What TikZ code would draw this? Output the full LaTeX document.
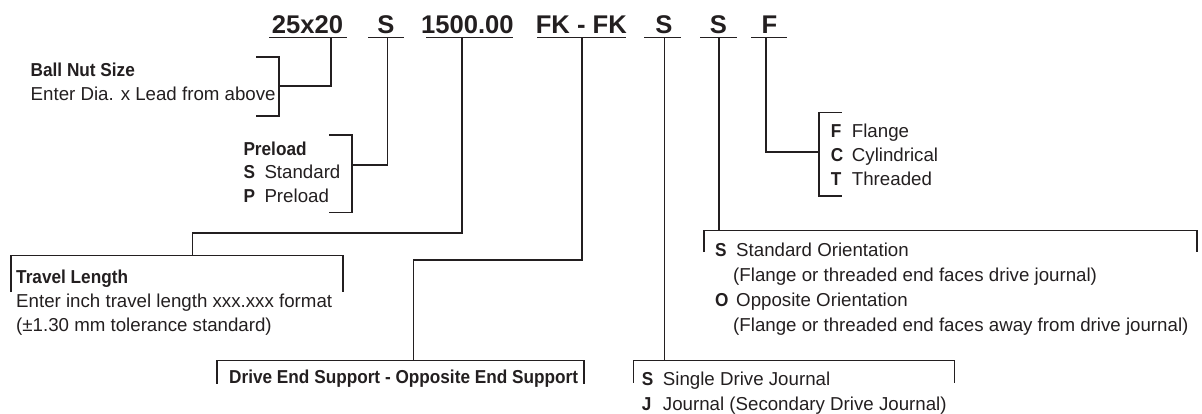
\documentclass[tikz,border=0pt]{standalone}
\usepackage{fontspec}
\setmainfont{Liberation Sans}
\newfontfamily\condfam{Liberation Sans}[FakeStretch=0.92]
\definecolor{ink}{RGB}{35,31,32}
\newcommand\bbf{\condfam\bfseries}
\newcommand\tg[1]{\makebox[21pt][l]{\bbf #1}}
\newcommand\cont{\hspace{18pt}}
\tikzset{
  ln/.style={draw=ink, line width=1.2pt},
  ul/.style={draw=ink, line width=1.5pt},
  hdr/.style={inner sep=0pt, anchor=base, text=ink, font=\fontsize{25.6}{30}\selectfont\bfseries},
  txt/.style={inner sep=0pt, anchor=base west, text=ink, font=\fontsize{18.7}{#1}\selectfont},
}
\begin{document}
\begin{tikzpicture}[x=1pt, y=-1pt]
\useasboundingbox (0,0) rectangle (1202,413);

% header
\node[hdr] (h1) at (307.5,33.3) {25x20};
\node[hdr] (h2) at (386,33.3) {S};
\node[hdr] (h3) at (467.4,33.3) {1500.00};
\node[hdr] (h4) at (581.3,33.3) {FK - FK};
\node[hdr] (h5) at (664,33.3) {S};
\node[hdr] (h6) at (718.5,33.3) {S};
\node[hdr] (h7) at (769.5,33.3) {F};
\draw[ul] (269,37.7) -- (347,37.7);
\draw[ul] (368,37.7) -- (404,37.7);
\draw[ul] (426,37.7) -- (513,37.7);
\draw[ul] (537,37.7) -- (626,37.7);
\draw[ul] (644,37.7) -- (681,37.7);
\draw[ul] (700,37.7) -- (737,37.7);
\draw[ul] (751,37.7) -- (787,37.7);

% turning points
\coordinate (s1) at (331,37.7);   \coordinate (t1) at (279,86);
\coordinate (s2) at (387.3,37.7); \coordinate (t2) at (352,165);
\coordinate (s3) at (462,37.7);   \coordinate (m3) at (192.3,233);  \coordinate (t3) at (192.3,255.7);
\coordinate (s4) at (582,37.7);   \coordinate (m4) at (413.3,260);  \coordinate (t4) at (413.3,360.7);
\coordinate (s5) at (664.3,37.7); \coordinate (t5) at (664.3,360.5);
\coordinate (s6) at (719,37.7);   \coordinate (t6) at (719,230.5);
\coordinate (s7) at (766,37.7);   \coordinate (t7) at (819,152);

% connectors
\draw[ln] (s1) |- (t1);
\draw[ln] (s2) |- (t2);
\draw[ln] (s3) |- (m3) -- (t3);
\draw[ln] (s4) |- (m4) -- (t4);
\draw[ln] (s5) -- (t5);
\draw[ln] (s6) -- (t6);
\draw[ln] (s7) |- (t7);

% brackets and boxes
\draw[ln] (256,57) -- (279,57) -- (279,116) -- (256,116);
\draw[ln] (329,135) -- (352,135) -- (352,212.3) -- (329,212.3);
\draw[ln] (11,292) -- (11,255.7) -- (343,255.7) -- (343,292);
\draw[ln] (217,383.5) -- (217,360.7) -- (584,360.7) -- (584,383.5);
\draw[ln] (633.3,382.7) -- (633.3,360.5) -- (954.3,360.5) -- (954.3,382.7);
\draw[ln] (704,252) -- (704,230.5) -- (1197,230.5) -- (1197,252);
\draw[ln] (841.7,112.5) -- (819,112.5) -- (819,196) -- (841.7,196);

% texts
\node[txt=24] (ballnut) at (30.5,76) {\begin{tabular}[t]{@{}l@{}}{\bbf Ball Nut Size}\\Enter Dia. x Lead from above\end{tabular}};
\node[txt=23.8] (preload) at (243.3,155) {\begin{tabular}[t]{@{}l@{}}{\bbf Preload}\\\tg{S}Standard\\\tg{P}Preload\end{tabular}};
\node[txt=24.2] (travel) at (16,283) {\begin{tabular}[t]{@{}l@{}}{\bbf Travel Length}\\Enter inch travel length xxx.xxx format\\(\textpm1.30 mm tolerance standard)\end{tabular}};
\node[txt=24] (drive) at (229,383) {\bbf Drive End Support - Opposite End Support};
\node[txt=25] (orient) at (715,256) {\begin{tabular}[t]{@{}l@{}}\tg{S}Standard Orientation\\\cont(Flange or threaded end faces drive journal)\\\tg{O}Opposite Orientation\\\cont(Flange or threaded end faces away from drive journal)\end{tabular}};
\node[txt=25] (journal) at (641.7,385) {\begin{tabular}[t]{@{}l@{}}\tg{S}Single Drive Journal\\\tg{J}Journal (Secondary Drive Journal)\end{tabular}};
\node[txt=24] (nut) at (830.7,137.7) {\begin{tabular}[t]{@{}l@{}}\tg{F}Flange\\\tg{C}Cylindrical\\\tg{T}Threaded\end{tabular}};
\end{tikzpicture}
\end{document}
